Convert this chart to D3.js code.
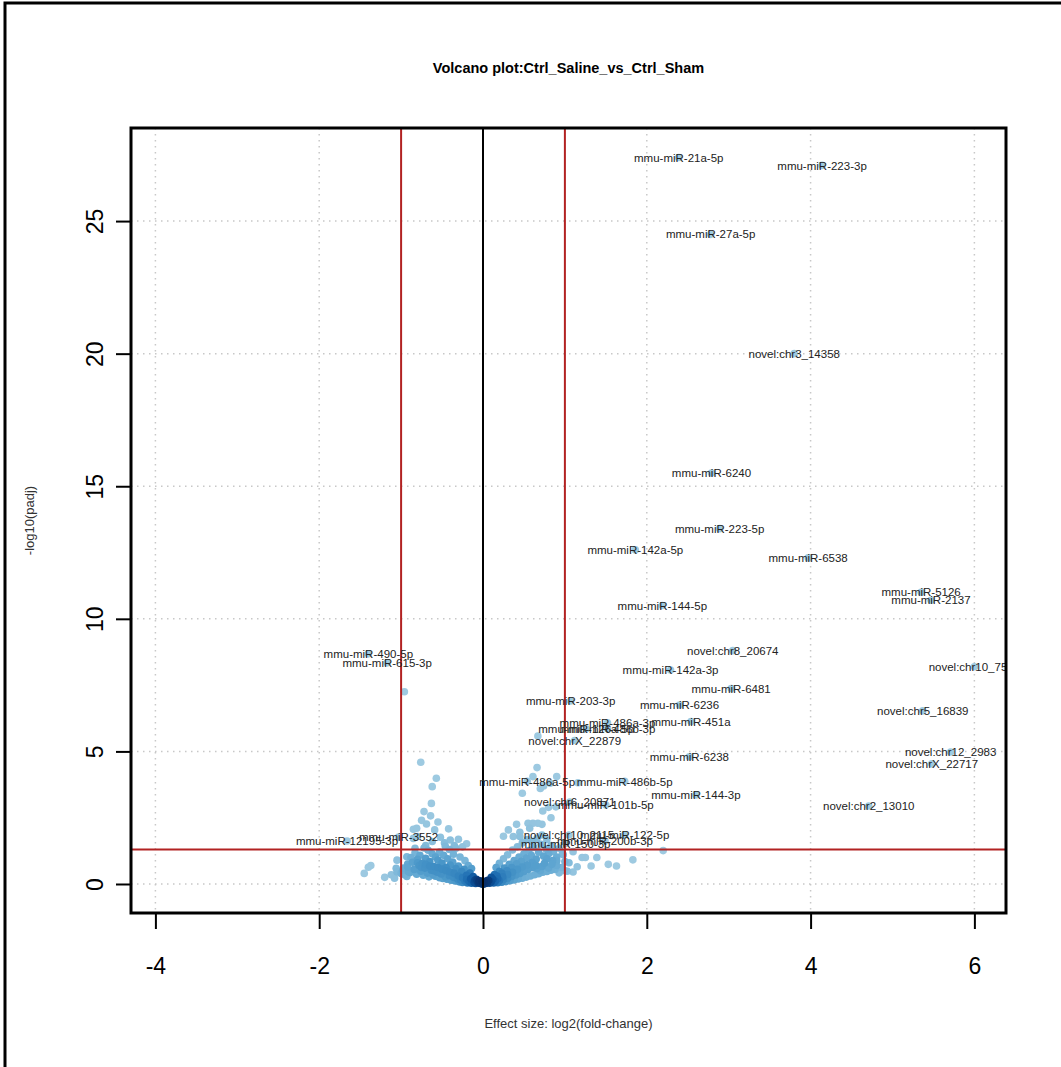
<!DOCTYPE html>
<html>
<head>
<meta charset="utf-8">
<script src="https://cdn.jsdelivr.net/npm/d3@7"></script>
<style>
  body { margin: 0; background: #fff; }
  svg text { font-family: "Liberation Sans", Arial, Helvetica, sans-serif; }
</style>
</head>
<body>
<div id="chart"></div>
<script>
// labelled miRNAs: log2 fold change and -log10(padj)
var labelNames = [
  "mmu-miR-21a-5p", "mmu-miR-223-3p", "mmu-miR-27a-5p", "novel:chr3_14358",
  "mmu-miR-6240", "mmu-miR-223-5p", "mmu-miR-142a-5p", "mmu-miR-6538",
  "mmu-miR-5126", "mmu-miR-2137", "mmu-miR-144-5p", "mmu-miR-490-5p",
  "mmu-miR-615-3p", "novel:chr8_20674", "mmu-miR-142a-3p", "novel:chr10_7519",
  "mmu-miR-6481", "mmu-miR-203-3p", "mmu-miR-6236", "novel:chr5_16839",
  "mmu-miR-451a", "mmu-miR-486a-3p", "mmu-miR-126a-5p", "mmu-miR-486b-3p",
  "novel:chrX_22879", "novel:chr12_2983", "mmu-miR-6238", "novel:chrX_22717",
  "mmu-miR-486a-5p", "mmu-miR-486b-5p", "mmu-miR-144-3p", "novel:chr6_20871",
  "mmu-miR-101b-5p", "novel:chr2_13010", "novel:chr10_2115", "mmu-miR-122-5p",
  "mmu-miR-200b-3p", "mmu-miR-150-3p", "mmu-miR-12195-3p", "mmu-miR-3552"
];
var labelFC = [
  2.39, 4.14, 2.78, 3.80,
  2.79, 2.89, 1.86, 3.97,
  5.35, 5.47, 2.19, -1.40,
  -1.17, 3.05, 2.29, 6.00,
  3.03, 1.07, 2.40, 5.37,
  2.54, 1.52, 1.26, 1.52,
  1.12, 5.71, 2.52, 5.48,
  0.54, 1.73, 2.60, 1.06,
  1.50, 4.71, 1.05, 1.73,
  1.49, 1.01, -1.66, -1.03
];
var labelP = [
  27.4, 27.1, 24.5, 20.0,
  15.5, 13.4, 12.6, 12.3,
  11.0, 10.7, 10.5, 8.68,
  8.34, 8.8, 8.07, 8.19,
  7.37, 6.9, 6.75, 6.53,
  6.13, 6.08, 5.85, 5.85,
  5.41, 4.98, 4.8, 4.53,
  3.87, 3.87, 3.36, 3.09,
  2.98, 2.94, 1.85, 1.85,
  1.62, 1.53, 1.62, 1.77
];

// unlabelled miRNAs [log2FC, -log10(padj)]
var otherPoints = [
  [-0.96, 7.25], [0.67, 5.58], [1.16, 3.82],
  // left, sparse
  [-0.76, 4.59], [-0.57, 3.99], [-0.62, 3.67], [-0.63, 3.04], [-0.72, 2.73], [-0.64, 2.57],
  [-0.75, 2.40], [-0.55, 2.34], [-0.69, 2.26], [-0.42, 2.08], [-0.59, 2.04], [-0.81, 2.10],
  [-0.85, 2.06], [-0.80, 1.79], [-0.85, 1.72], [-0.52, 1.76], [-0.40, 1.66], [-0.30, 1.69],
  [-0.83, 1.35], [-0.47, 1.55], [-0.62, 1.60], [-0.35, 1.45], [-0.25, 1.40], [-0.70, 1.45],
  [-0.20, 1.52], [-0.93, 1.03], [-1.05, 0.90], [-1.06, 0.59], [-1.00, 0.40], [-0.91, 0.46],
  [-0.93, 0.28], [-1.45, 0.40], [-1.40, 0.63], [-1.37, 0.70], [-1.20, 0.25], [-1.12, 0.35],
  [-1.05, 0.45], [-0.98, 0.38], [-1.08, 0.22], [-0.97, 0.60], [-0.92, 0.75],
  // left lobe
  [-0.03, 0.02], [-0.06, 0.05], [-0.09, 0.02], [-0.11, 0.07], [-0.14, 0.03], [-0.17, 0.09],
  [-0.19, 0.04], [-0.22, 0.11], [-0.25, 0.06], [-0.27, 0.14], [-0.29, 0.08], [-0.31, 0.19],
  [-0.34, 0.11], [-0.36, 0.25], [-0.39, 0.14], [-0.41, 0.31], [-0.44, 0.18], [-0.46, 0.27],
  [-0.49, 0.21], [-0.51, 0.38], [-0.53, 0.24], [-0.56, 0.44], [-0.58, 0.29], [-0.61, 0.35],
  [-0.63, 0.52], [-0.66, 0.27], [-0.68, 0.41], [-0.71, 0.60], [-0.73, 0.33], [-0.76, 0.48],
  [-0.78, 0.70], [-0.81, 0.37], [-0.84, 0.55], [-0.86, 0.82], [-0.89, 0.43], [-0.92, 0.64],
  [-0.95, 0.35], [-0.98, 0.52],
  [-0.12, 0.28], [-0.16, 0.41], [-0.20, 0.33], [-0.23, 0.55], [-0.26, 0.47], [-0.30, 0.68],
  [-0.33, 0.58], [-0.37, 0.83], [-0.40, 0.71], [-0.43, 0.95], [-0.45, 0.62], [-0.48, 1.08],
  [-0.50, 0.79], [-0.53, 1.20], [-0.55, 0.90], [-0.58, 1.02], [-0.60, 0.66], [-0.62, 1.14],
  [-0.65, 0.85], [-0.67, 1.27], [-0.70, 0.97], [-0.72, 1.36], [-0.74, 0.78], [-0.77, 1.08],
  [-0.80, 0.93], [-0.83, 1.18], [-0.88, 1.00], [-0.36, 1.12], [-0.41, 1.30], [-0.46, 1.42],
  [-0.33, 1.35], [-0.28, 1.02], [-0.22, 0.88], [-0.18, 0.70], [-0.14, 0.58], [-0.08, 0.18],
  [-0.05, 0.10], [-0.10, 0.14], [-0.15, 0.20], [-0.20, 0.18], [-0.25, 0.24], [-0.30, 0.30],
  [-0.35, 0.40], [-0.40, 0.45], [-0.45, 0.50], [-0.50, 0.56], [-0.55, 0.62], [-0.60, 0.50],
  [-0.65, 0.68], [-0.70, 0.74], [-0.75, 0.62], [-0.80, 0.80],
  // centre
  [0.00, 0.00], [0.01, 0.00], [-0.01, 0.00], [0.00, 0.01], [0.02, 0.03], [-0.02, 0.03],
  [0.03, 0.04], [-0.03, 0.04], [0.05, 0.05], [-0.05, 0.05], [0.00, 0.05], [0.01, 0.08],
  [-0.01, 0.10], [0.04, 0.11], [-0.04, 0.12], [0.07, 0.13], [-0.07, 0.14],
  // right lobe
  [0.03, 0.02], [0.05, 0.06], [0.08, 0.03], [0.10, 0.08], [0.13, 0.04], [0.15, 0.10],
  [0.18, 0.05], [0.20, 0.13], [0.23, 0.07], [0.25, 0.17], [0.28, 0.09], [0.30, 0.22],
  [0.33, 0.12], [0.35, 0.28], [0.38, 0.15], [0.40, 0.34], [0.43, 0.19], [0.45, 0.40],
  [0.48, 0.22], [0.50, 0.47], [0.53, 0.26], [0.55, 0.55], [0.58, 0.30], [0.60, 0.62],
  [0.63, 0.35], [0.65, 0.70], [0.68, 0.39], [0.70, 0.50], [0.73, 0.44], [0.75, 0.78],
  [0.78, 0.47], [0.80, 0.60], [0.83, 0.52], [0.85, 0.88], [0.88, 0.55], [0.90, 0.70],
  [0.93, 0.42], [0.96, 0.62], [1.00, 0.85], [1.03, 0.48],
  [0.10, 0.25], [0.14, 0.36], [0.17, 0.30], [0.20, 0.48], [0.23, 0.40], [0.26, 0.60],
  [0.29, 0.50], [0.32, 0.74], [0.35, 0.62], [0.38, 0.88], [0.41, 0.76], [0.44, 1.02],
  [0.47, 0.86], [0.50, 1.14], [0.53, 0.98], [0.56, 1.26], [0.59, 1.08], [0.62, 1.38],
  [0.65, 0.94], [0.68, 1.20], [0.71, 1.50], [0.74, 1.05], [0.77, 1.32], [0.80, 1.14],
  [0.83, 1.45], [0.86, 1.22], [0.90, 1.02], [0.93, 1.35], [0.97, 1.15], [0.30, 1.10],
  [0.36, 1.28], [0.42, 1.40], [0.48, 1.55], [0.54, 1.68], [0.60, 1.60], [0.66, 1.72],
  [0.72, 1.85], [0.78, 1.68], [0.25, 0.95], [0.20, 0.78], [0.16, 0.62], [0.06, 0.14],
  [0.12, 0.18], [0.18, 0.20], [0.24, 0.27], [0.30, 0.36], [0.36, 0.44], [0.42, 0.55],
  [0.48, 0.64], [0.54, 0.72], [0.60, 0.82], [0.66, 0.58], [0.72, 0.66], [0.78, 0.95],
  [0.84, 0.74], [0.90, 0.88],
  // right, sparse
  [0.66, 4.39], [0.61, 4.05], [0.74, 3.70], [0.70, 3.60], [0.82, 3.80], [0.90, 4.05],
  [0.48, 3.42], [0.73, 2.75], [0.80, 2.89], [0.89, 2.91], [0.83, 2.50], [0.41, 2.25],
  [0.55, 2.29], [0.61, 2.29], [0.67, 2.29], [0.72, 2.25], [0.31, 2.04], [0.37, 1.79],
  [0.45, 1.79], [0.57, 2.10], [0.25, 1.80], [0.45, 1.95],
  [1.10, 1.22], [1.21, 1.00], [1.25, 1.00], [1.39, 1.00], [1.32, 0.68], [1.53, 0.74],
  [1.63, 0.68], [1.83, 0.91], [2.20, 1.26], [1.05, 0.80], [1.15, 0.65], [0.98, 1.10],
  [1.00, 0.50], [1.10, 0.45]
];

var xTicks = [-4, -2, 0, 2, 4, 6];
var yTicks = [0, 5, 10, 15, 20, 25];
var fcCut = 1;
var padjCut = -Math.log10(0.05);

var title = "Volcano plot:Ctrl_Saline_vs_Ctrl_Sham";
var xTitle = "Effect size: log2(fold-change)";
var yTitle = "-log10(padj)";

const svgWidth = 1061, svgHeight = 1067;
const box = {left: 131, right: 1006, top: 128, bottom: 913};

const svg = d3.select("#chart").append("svg")
  .attr("width", svgWidth)
  .attr("height", svgHeight);

// outer frame (only top and left visible)
svg.append("rect")
  .attr("x", 5).attr("y", 3)
  .attr("width", svgWidth + 20).attr("height", svgHeight + 20)
  .attr("fill", "none").attr("stroke", "#000").attr("stroke-width", 3);

const x = d3.scaleLinear().domain([-4.298, 6.386]).range([box.left, box.right]);
const y = d3.scaleLinear().domain([-1.094, 28.51]).range([box.bottom, box.top]);

svg.append("clipPath").attr("id", "plotclip")
  .append("rect")
  .attr("x", box.left).attr("y", box.top)
  .attr("width", box.right - box.left).attr("height", box.bottom - box.top);

// grid
const grid = svg.append("g");
grid.selectAll("line.gx").data(xTicks).enter().append("line")
  .attr("x1", d => x(d)).attr("x2", d => x(d))
  .attr("y1", box.top).attr("y2", box.bottom)
  .attr("stroke", "#c8c8c8").attr("stroke-width", 1.5).attr("stroke-dasharray", "1.5,4.5");
grid.selectAll("line.gy").data(yTicks).enter().append("line")
  .attr("y1", d => y(d)).attr("y2", d => y(d))
  .attr("x1", box.left).attr("x2", box.right)
  .attr("stroke", "#c8c8c8").attr("stroke-width", 1.5).attr("stroke-dasharray", "1.5,4.5");

// points, coloured by local density like densCols
var pts = otherPoints.map(d => ({fc: d[0], p: d[1]}))
  .concat(labelNames.map((n, i) => ({fc: labelFC[i], p: labelP[i], name: n})));
pts.forEach(d => { d.px = x(d.fc); d.py = y(d.p); });
const bw = 10;
pts.forEach(d => {
  var s = 0;
  pts.forEach(q => {
    var dx = (d.px - q.px) / bw, dy = (d.py - q.py) / bw;
    s += Math.exp(-0.5 * (dx * dx + dy * dy));
  });
  d.dens = s;
});
const maxDens = d3.max(pts, d => d.dens);
const ramp = d3.interpolateRgbBasis(["#9ECAE1", "#6BAED6", "#4292C6", "#2171B5", "#08519C", "#08306B"]);
pts.sort((a, b) => a.dens - b.dens);

svg.append("g").attr("clip-path", "url(#plotclip)")
  .selectAll("circle").data(pts).enter().append("circle")
  .attr("cx", d => d.px).attr("cy", d => d.py).attr("r", 3.8)
  .attr("fill", d => ramp(Math.pow(d.dens / maxDens, 2)));

// threshold lines
const lines = svg.append("g");
lines.append("line")
  .attr("x1", x(0)).attr("x2", x(0)).attr("y1", box.top).attr("y2", box.bottom)
  .attr("stroke", "#000").attr("stroke-width", 2);
lines.selectAll("line.fc").data([-fcCut, fcCut]).enter().append("line")
  .attr("x1", d => x(d)).attr("x2", d => x(d)).attr("y1", box.top).attr("y2", box.bottom)
  .attr("stroke", "#b22222").attr("stroke-width", 2);
lines.append("line")
  .attr("x1", box.left).attr("x2", box.right).attr("y1", y(padjCut)).attr("y2", y(padjCut))
  .attr("stroke", "#b22222").attr("stroke-width", 2);

// labels
svg.append("g").attr("clip-path", "url(#plotclip)")
  .selectAll("text").data(labelNames).enter().append("text")
  .attr("x", (d, i) => x(labelFC[i]))
  .attr("y", (d, i) => y(labelP[i]))
  .attr("dy", "0.36em")
  .attr("text-anchor", "middle")
  .attr("font-size", "11.5px")
  .attr("fill", "#222")
  .text(d => d);

// box
svg.append("rect")
  .attr("x", box.left).attr("y", box.top)
  .attr("width", box.right - box.left).attr("height", box.bottom - box.top)
  .attr("fill", "none").attr("stroke", "#000").attr("stroke-width", 3);

// axes
const xAxis = svg.append("g")
  .attr("transform", `translate(0,${box.bottom})`)
  .call(d3.axisBottom(x).tickValues(xTicks).tickSize(16).tickFormat(d => d < 0 ? "-" + Math.abs(d) : d));
xAxis.select(".domain").remove();
xAxis.selectAll(".tick line").attr("stroke", "#000").attr("stroke-width", 2);
xAxis.selectAll(".tick text")
  .attr("y", 61).attr("dy", 0)
  .attr("font-size", "23px").attr("fill", "#000")
  .style("font-family", "\"Liberation Sans\", Arial, sans-serif");

const yAxis = svg.append("g")
  .attr("transform", `translate(${box.left},0)`)
  .call(d3.axisLeft(y).tickValues(yTicks).tickSize(15));
yAxis.select(".domain").remove();
yAxis.selectAll(".tick line").attr("stroke", "#000").attr("stroke-width", 2);
yAxis.selectAll(".tick text")
  .attr("transform", "rotate(-90)")
  .attr("x", 0).attr("y", -28).attr("dy", 0)
  .attr("text-anchor", "middle")
  .attr("font-size", "23px").attr("fill", "#000")
  .style("font-family", "\"Liberation Sans\", Arial, sans-serif");

// titles
const midX = (box.left + box.right) / 2;
const midY = (box.top + box.bottom) / 2;
svg.append("text")
  .attr("x", midX).attr("y", 73)
  .attr("text-anchor", "middle")
  .attr("font-size", "14.5px").attr("font-weight", "bold")
  .text(title);
svg.append("text")
  .attr("x", midX).attr("y", 1028)
  .attr("text-anchor", "middle")
  .attr("font-size", "13px").attr("fill", "#333")
  .text(xTitle);
svg.append("text")
  .attr("transform", `translate(34,${midY}) rotate(-90)`)
  .attr("text-anchor", "middle")
  .attr("font-size", "13px").attr("fill", "#333")
  .text(yTitle);
</script>
</body>
</html>
